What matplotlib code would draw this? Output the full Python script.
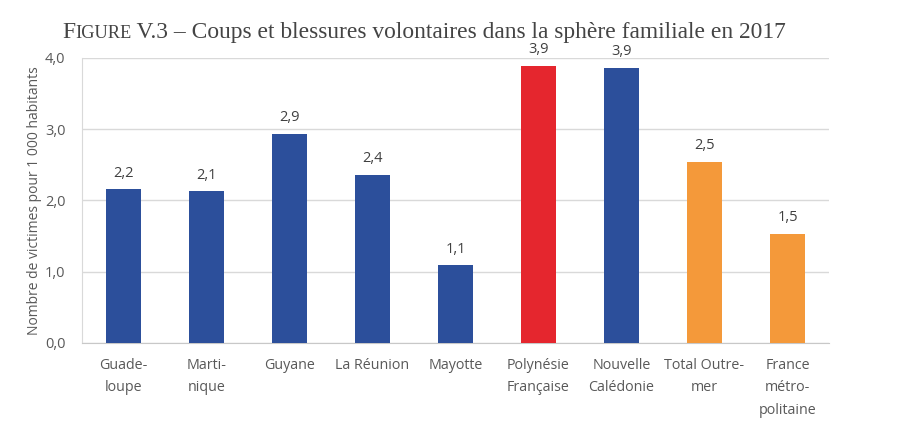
import matplotlib
matplotlib.use("Agg")
import matplotlib.pyplot as plt

categories = ["Guade-\nloupe", "Marti-\nnique", "Guyane", "La Réunion", "Mayotte",
              "Polynésie\nFrançaise", "Nouvelle\nCalédonie", "Total Outre-\nmer",
              "France\nmétro-\npolitaine"]
values = [2.16, 2.13, 2.94, 2.36, 1.09, 3.89, 3.86, 2.54, 1.53]
labels = ["2,2", "2,1", "2,9", "2,4", "1,1", "3,9", "3,9", "2,5", "1,5"]
yticks = [0, 1, 2, 3, 4]
ytick_labels = ["0,0", "1,0", "2,0", "3,0", "4,0"]

blue = "#2c4f9b"
red = "#e5262e"
orange = "#f4993a"
colors = [blue, blue, blue, blue, blue, red, blue, orange, orange]

sans = ["Open Sans", "DejaVu Sans"]
grey = "#595959"

fig = plt.figure(figsize=(9, 4.28), dpi=100)
ax = fig.add_axes([0.0911, 0.1986, 0.83, 0.6659])

x = range(len(values))
ax.bar(x, values, width=0.43, color=colors, zorder=3)
for i, v in enumerate(values):
    ax.text(i, v + 0.12, labels[i], ha="center", va="bottom", fontsize=10.5,
            color="#404040", family=sans)

ax.set_xlim(-0.5, 8.5)
ax.set_ylim(0, 4)
ax.set_yticks(yticks)
ax.set_yticklabels(ytick_labels, family=sans, fontsize=10.5, color=grey)
ax.set_xticks(list(x))
ax.set_xticklabels(categories, family=sans, fontsize=10.3, color=grey,
                   linespacing=1.65, va="top")
ax.tick_params(axis="both", length=0)
ax.tick_params(axis="x", pad=11)
ax.tick_params(axis="y", pad=12)
ax.grid(axis="y", color="#d9d9d9", linewidth=1, zorder=0)
for s in ["top", "right"]:
    ax.spines[s].set_visible(False)
ax.spines["left"].set_color("#d9d9d9")
ax.spines["bottom"].set_color("#c8c8c8")
ax.set_ylabel("Nombre de victimes pour 1 000 habitants", family=sans,
              fontsize=10, color=grey, labelpad=2)

# title with small caps "FIGURE"
serif = ["Liberation Serif", "DejaVu Serif"]
tc = "#444444"
fig.canvas.draw()
r = fig.canvas.get_renderer()
ty = 1 - 38 / 428
t1 = fig.text(62 / 900, ty, "F", fontsize=17, family=serif, color=tc, va="baseline")
bb = t1.get_window_extent(r)
t2 = fig.text(bb.x1 / 900, ty, "IGURE", fontsize=13.2, family=serif, color=tc, va="baseline")
bb = t2.get_window_extent(r)
fig.text(bb.x1 / 900, ty, " V.3 – Coups et blessures volontaires dans la sphère familiale en 2017",
         fontsize=16.9, family=serif, color=tc, va="baseline")

fig.savefig("out.png", dpi=100)
